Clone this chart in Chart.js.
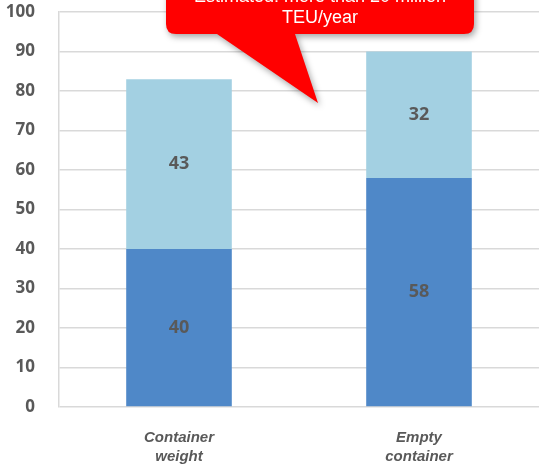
<!DOCTYPE html>
<html>
<head>
<meta charset="utf-8">
<script src="https://cdn.jsdelivr.net/npm/chart.js@4/dist/chart.umd.min.js"></script>
<style>
  html, body { margin: 0; padding: 0; background: #fff; }
  #wrap { width: 539px; height: 465px; }
</style>
</head>
<body>
<div id="wrap"><canvas id="chart"></canvas></div>
<script>
const categories = [['Container', 'weight'], ['Empty', 'container']];
const lowerValues = [40, 58];
const upperValues = [43, 32];
const yTicks = [0, 10, 20, 30, 40, 50, 60, 70, 80, 90, 100];
const calloutLines = ['Estimated: more than 20 million', 'TEU/year'];

// writes the value in the middle of each bar segment
const segmentLabels = {
    id: 'segmentLabels',
    afterDatasetsDraw(chart) {
        const ctx = chart.ctx;
        ctx.save();
        ctx.font = 'bold 18px "Open Sans", sans-serif';
        ctx.fillStyle = '#595959';
        ctx.textAlign = 'center';
        ctx.textBaseline = 'middle';
        chart.data.datasets.forEach((ds, i) => {
            chart.getDatasetMeta(i).data.forEach((bar, j) => {
                const p = bar.getProps(['x', 'y', 'base'], true);
                ctx.fillText(ds.data[j], p.x, (p.y + p.base) / 2);
            });
        });
        ctx.restore();
    }
};

// red speech-bubble note at the top
const callout = {
    id: 'callout',
    afterDraw(chart) {
        const ctx = chart.ctx;
        const left = 166, right = 474, top = -30, bottom = 34, r = 10;
        ctx.save();
        ctx.beginPath();
        ctx.moveTo(left + r, top);
        ctx.lineTo(right - r, top);
        ctx.quadraticCurveTo(right, top, right, top + r);
        ctx.lineTo(right, bottom - r);
        ctx.quadraticCurveTo(right, bottom, right - r, bottom);
        ctx.lineTo(295, bottom);
        ctx.lineTo(318, 103);
        ctx.lineTo(217, bottom);
        ctx.lineTo(left + r, bottom);
        ctx.quadraticCurveTo(left, bottom, left, bottom - r);
        ctx.lineTo(left, top + r);
        ctx.quadraticCurveTo(left, top, left + r, top);
        ctx.closePath();
        ctx.shadowColor = 'rgba(0,0,0,0.35)';
        ctx.shadowBlur = 6;
        ctx.shadowOffsetX = 2;
        ctx.shadowOffsetY = 3;
        ctx.fillStyle = '#ff0000';
        ctx.fill();
        ctx.shadowColor = 'transparent';
        ctx.fillStyle = '#ffffff';
        ctx.font = '18px "Liberation Sans", Arial, sans-serif';
        ctx.textAlign = 'center';
        ctx.textBaseline = 'middle';
        ctx.fillText(calloutLines[0], (left + right) / 2, -3);
        ctx.fillText(calloutLines[1], (left + right) / 2, 18);
        ctx.restore();
    }
};

new Chart(document.getElementById('chart'), {
    type: 'bar',
    data: {
        labels: categories,
        datasets: [
            { label: 'lower', data: lowerValues, backgroundColor: '#4f88c8' },
            { label: 'upper', data: upperValues, backgroundColor: '#a3d0e2' }
        ]
    },
    options: {
        responsive: true,
        maintainAspectRatio: false,
        animation: false,
        layout: { padding: { top: 12, right: 0, left: 0, bottom: 0 } },
        datasets: { bar: { categoryPercentage: 1, barPercentage: 0.44 } },
        plugins: { legend: { display: false }, tooltip: { enabled: false } },
        scales: {
            x: {
                stacked: true,
                grid: { display: false, drawTicks: false },
                border: { display: false },
                ticks: {
                    color: '#595959',
                    font: { family: '"Liberation Sans", Arial, sans-serif', size: 15, weight: 'bold', style: 'italic', lineHeight: 1.3 },
                    padding: 21
                },
                afterFit(scale) {
                    scale.height = 58;
                    scale.paddingLeft = 0;
                    scale.paddingRight = 0;
                }
            },
            y: {
                stacked: true,
                min: 0,
                max: 100,
                afterBuildTicks(scale) { scale.ticks = yTicks.map(v => ({ value: v })); },
                grid: { color: '#d9d9d9', lineWidth: 1.5, drawTicks: false },
                border: { display: true, color: '#d9d9d9', width: 1.5 },
                ticks: {
                    color: '#595959',
                    font: { family: '"Open Sans", sans-serif', size: 17, weight: 'bold' },
                    padding: 24
                },
                afterFit(scale) {
                    scale.width = 59;
                    scale.paddingTop = 0;
                    scale.paddingBottom = 0;
                }
            }
        }
    },
    plugins: [segmentLabels, callout]
});
</script>
</body>
</html>
